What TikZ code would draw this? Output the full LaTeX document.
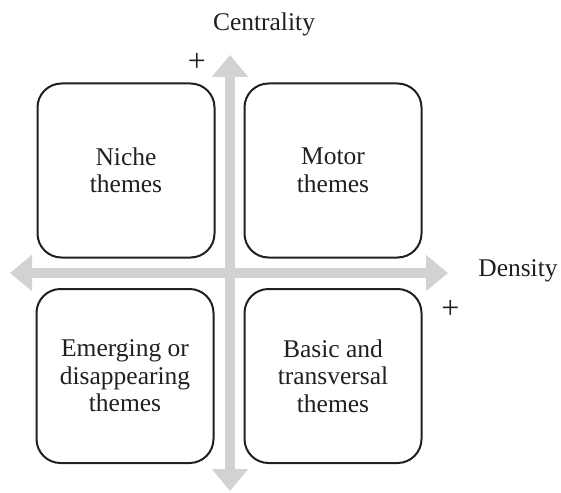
\documentclass[tikz,border=0pt]{standalone}
\usepackage{fontspec}
\setmainfont{Liberation Serif}
\usetikzlibrary{arrows.meta}
\definecolor{axisgray}{RGB}{210,210,210}
\definecolor{boxline}{RGB}{35,31,32}
\begin{document}
\begin{tikzpicture}[x=1pt,y=-1pt,
  theme/.style={draw=boxline,line width=2pt,rounded corners=24pt,fill=white,
    minimum width=177pt,minimum height=174pt,align=center,
    font=\fontsize{25.5}{27.5}\selectfont,text=boxline},
  axis/.style={draw=axisgray,line width=10pt,
    {Triangle[length=22pt,width=35pt]}-{Triangle[length=22pt,width=35pt]}},
  lbl/.style={font=\fontsize{25.5}{27.5}\selectfont,text=boxline,inner sep=0pt},
  plussign/.style={font=\fontsize{32}{32}\selectfont,text=boxline,inner sep=0pt}]
\useasboundingbox (0,0) rectangle (561,492);
\coordinate (vtop) at (230,55);
\coordinate (vbot) at (230,491);
\coordinate (hleft) at (10,273);
\coordinate (hright) at (448,273);
\draw[axis] (vtop) -- (vbot);
\draw[axis] (hleft) -- (hright);
\node[theme] (niche) at (126,170.5) {Niche\\themes};
\node[theme] (motor) at (333,170.5) {Motor\\themes};
\node[theme] (emerg) at (125,376) {Emerging or\\disappearing\\themes};
\node[theme] (basic) at (333,376) {Basic and\\transversal\\themes};
\node[lbl,anchor=base] (cent) at (264,31) {Centrality};
\node[lbl,anchor=base] (dens) at (518,276) {Density};
\node[plussign] (plustop) at (197,62) {+};
\node[plussign] (plusright) at (450.5,309.5) {+};
\end{tikzpicture}
\end{document}
